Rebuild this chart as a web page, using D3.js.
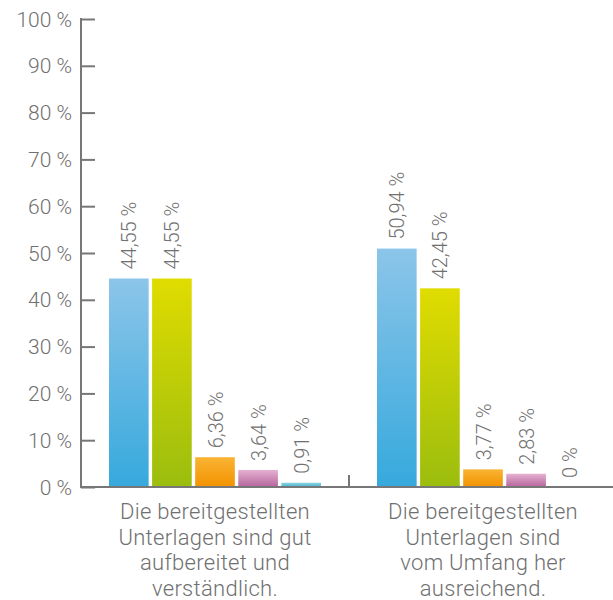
<!DOCTYPE html>
<html><head><meta charset="utf-8">
<script src="https://cdn.jsdelivr.net/npm/d3@7"></script>
<style>body{margin:0;background:#fff}svg{display:block}</style>
</head><body>
<script>
const categories = [
  ["Die bereitgestellten","Unterlagen sind gut","aufbereitet und","verständlich."],
  ["Die bereitgestellten","Unterlagen sind","vom Umfang her","ausreichend."]
];
const seriesNames = ["s1","s2","s3","s4","s5"];
const values = [
  [44.55, 44.55, 6.36, 3.64, 0.91],
  [50.94, 42.45, 3.77, 2.83, 0]
];
const valueLabels = [
  ["44,55 %","44,55 %","6,36 %","3,64 %","0,91 %"],
  ["50,94 %","42,45 %","3,77 %","2,83 %","0 %"]
];
const yTicks = [0,10,20,30,40,50,60,70,80,90,100];
const colors = [
  ["#8cc5e9","#36a9dd"],
  ["#e0dc00","#9bbd0e"],
  ["#f9b433","#f39200"],
  ["#e6b0d2","#b5659c"],
  ["#8dd2e3","#45b7cf"]
];

const W=613,H=600;
const svg=d3.select("body").append("svg").attr("width",W).attr("height",H);
const font="Roboto, 'DejaVu Sans', sans-serif";
const gray="#707070";
const axisColor="#777";

const x0=d3.scaleBand().domain(d3.range(categories.length)).range([81,617]).paddingInner(0).paddingOuter(0);
const x1=d3.scaleBand().domain(d3.range(seriesNames.length)).range([28,240]).paddingInner(0.08).paddingOuter(0);
const y=d3.scaleLinear().domain([0,100]).range([487,19]);

const defs=svg.append("defs");
colors.forEach((c,i)=>{
  const g=defs.append("linearGradient").attr("id","g"+i).attr("x1",0).attr("x2",0).attr("y1",0).attr("y2",1);
  g.append("stop").attr("offset","0%").attr("stop-color",c[0]);
  g.append("stop").attr("offset","100%").attr("stop-color",c[1]);
});

// bars
values.forEach((vals,ci)=>{
  const g=svg.append("g").attr("transform",`translate(${x0(ci)},0)`);
  vals.forEach((v,si)=>{
    if(v>0){
      g.append("rect").attr("x",x1(si)).attr("width",x1.bandwidth())
        .attr("y",y(v)).attr("height",y(0)-y(v)).attr("fill",`url(#g${si})`);
    }
    const cx=x1(si)+x1.bandwidth()/2;
    g.append("text").attr("transform",`translate(${cx+7.5},${y(v)-9}) rotate(-90)`)
      .attr("font-family",font).attr("font-weight",300).attr("font-size",20)
      .attr("fill",gray).attr("text-anchor","start").text(valueLabels[ci][si]);
  });
});

// y axis
const yAxis=d3.axisRight(y).tickValues(yTicks).tickSize(14).tickFormat(()=> "");
const ya=svg.append("g").attr("transform","translate(81,0)").call(yAxis);
ya.select(".domain").remove();
ya.selectAll("line").attr("stroke",axisColor).attr("stroke-width",2);
svg.append("line").attr("x1",81).attr("x2",81).attr("y1",y(100)-1).attr("y2",y(0)+1).attr("stroke",axisColor).attr("stroke-width",2);
svg.selectAll(".ytl").data(yTicks).enter().append("text")
  .attr("x",72).attr("y",d=>y(d)+7.5).attr("text-anchor","end")
  .attr("font-family",font).attr("font-weight",300).attr("font-size",21).attr("fill",gray)
  .text(d=>d+" %");

// x axis
svg.append("line").attr("x1",80).attr("x2",W).attr("y1",y(0)).attr("y2",y(0)).attr("stroke",axisColor).attr("stroke-width",2);
svg.append("line").attr("x1",x0(1)).attr("x2",x0(1)).attr("y1",y(0)).attr("y2",y(0)-12).attr("stroke",axisColor).attr("stroke-width",2);

// category labels
categories.forEach((lines,ci)=>{
  const cx=x0(ci)+x0.bandwidth()/2;
  const t=svg.append("text").attr("text-anchor","middle").attr("font-family",font).attr("font-weight",300)
    .attr("font-size",22).attr("fill",gray).attr("letter-spacing",0.3);
  lines.forEach((l,i)=>t.append("tspan").attr("x",cx).attr("y",519+i*25.5).text(l));
});
</script>
</body></html>
